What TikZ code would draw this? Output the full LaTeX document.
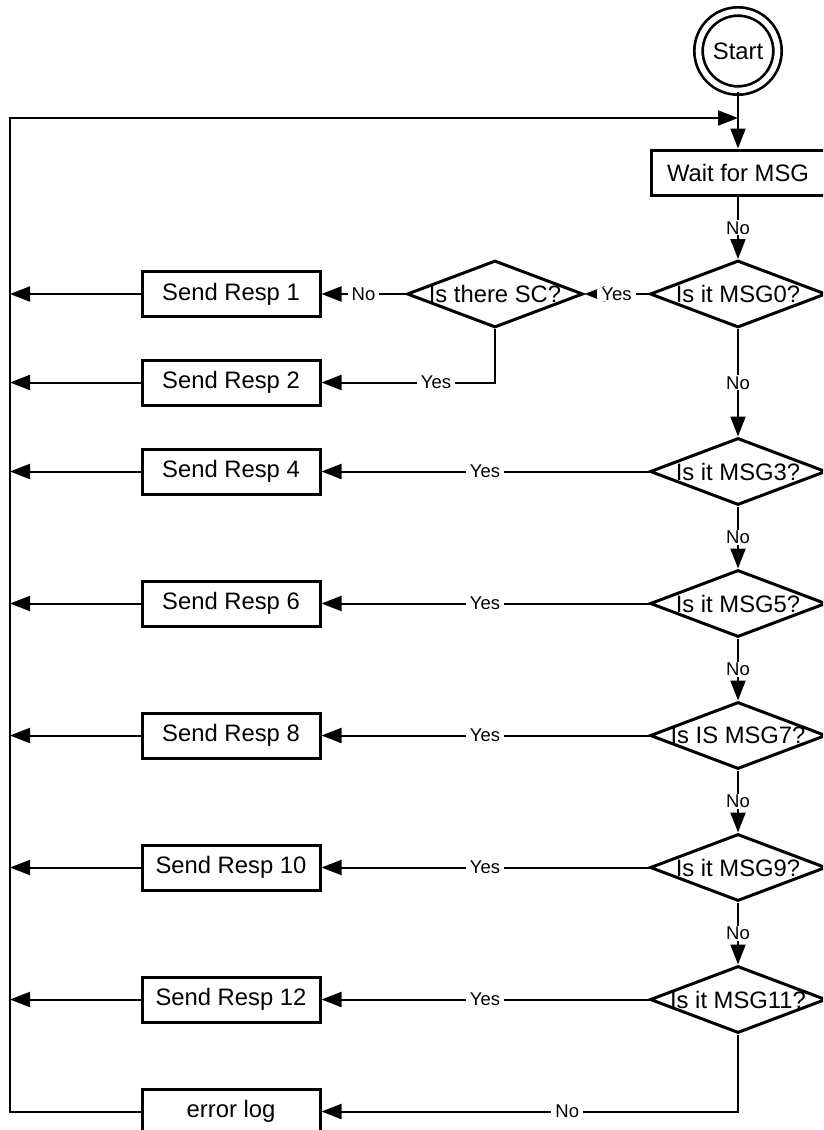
\documentclass[tikz,border=0pt]{standalone}
\usepackage{fontspec}
\setmainfont{Liberation Sans}
\usetikzlibrary{shapes.geometric,arrows.meta}
\begin{document}
\begin{tikzpicture}[x=1pt,y=-1pt,
  every node/.style={font=\fontsize{23.8}{28}\selectfont},
  procbox/.style={draw,line width=3pt,rectangle,minimum width=178pt,minimum height=45pt,inner sep=0pt},
  waitbox/.style={procbox,minimum width=174pt},
  decision/.style={draw,line width=3pt,diamond,minimum width=176pt,minimum height=67pt,inner sep=0pt},
  startnode/.style={draw,double,line width=2.7pt,double distance=5.6pt,circle,minimum size=79pt,inner sep=0pt},
  conn/.style={line width=2pt,-{Triangle[length=20pt,width=15pt]}},
  lbl/.style={fill=white,inner xsep=4pt,inner ysep=1pt,font=\fontsize{18.5}{21}\selectfont}]

% page frame: everything beyond it is cut off
\useasboundingbox (0,0) rectangle (823,1130);
\clip (0,0) rectangle (823,1130);
\fill[white] (0,0) rectangle (823,1130);

% main column
\node[startnode] (start) at (738,51) {Start};
\coordinate (entry) at (738,118);
\coordinate (rail) at (10,118);
\node[waitbox] (wait) at (738,172.5) {Wait for MSG};
\node[decision] (m0)  at (738,294)   {\makebox[0pt]{Is it MSG0?}};
\node[decision] (sc)  at (495,294)   {\makebox[0pt]{Is there SC?}};
\node[decision] (m3)  at (738,471.5) {\makebox[0pt]{Is it MSG3?}};
\node[decision] (m5)  at (738,603.5) {\makebox[0pt]{Is it MSG5?}};
\node[decision] (m7)  at (738,735.5) {\makebox[0pt]{Is IS MSG7?}};
\node[decision] (m9)  at (738,867.5) {\makebox[0pt]{Is it MSG9?}};
\node[decision] (m11) at (738,999.5) {\makebox[0pt]{Is it MSG11?}};

% response column
\node[procbox] (r1)  at (231,294)    {Send Resp 1};
\node[procbox] (r2)  at (231,382.5)  {Send Resp 2};
\node[procbox] (r4)  at (231,471.5)  {Send Resp 4};
\node[procbox] (r6)  at (231,603.5)  {Send Resp 6};
\node[procbox] (r8)  at (231,735.5)  {Send Resp 8};
\node[procbox] (r10) at (231,867.5)  {Send Resp 10};
\node[procbox] (r12) at (231,999.5)  {Send Resp 12};
\node[procbox] (err) at (231,1111.5) {error log};

% decision chain
\draw[conn] (start) -- (wait);
\draw[conn] (wait) -- node[lbl]{No} (m0);
\draw[conn] (m0) -- node[lbl]{Yes} (sc);
\draw[conn] (sc) -- node[lbl]{No} (r1);
\draw[conn] (sc.south) -- (sc.south |- r2.east) -- node[lbl,pos=0.34]{Yes} (r2.east);
\draw[conn] (m0) -- node[lbl]{No} (m3);
\draw[conn] (m3) -- node[lbl]{No} (m5);
\draw[conn] (m5) -- node[lbl]{No} (m7);
\draw[conn] (m7) -- node[lbl]{No} (m9);
\draw[conn] (m9) -- node[lbl]{No} (m11);
\draw[conn] (m3) -- node[lbl]{Yes} (r4);
\draw[conn] (m5) -- node[lbl]{Yes} (r6);
\draw[conn] (m7) -- node[lbl]{Yes} (r8);
\draw[conn] (m9) -- node[lbl]{Yes} (r10);
\draw[conn] (m11) -- node[lbl]{Yes} (r12);
\draw[conn] (m11.south) -- (m11.south |- err.east) -- node[lbl,pos=0.41]{No} (err.east);

% return rail back to the wait state
\foreach \n in {r1,r2,r4,r6,r8,r10,r12}
  \draw[conn] (\n.west) -- (\n.west -| rail);
\draw[conn] (err.west) -- (err.west -| rail) -- (rail) -- (entry);
\end{tikzpicture}
\end{document}
